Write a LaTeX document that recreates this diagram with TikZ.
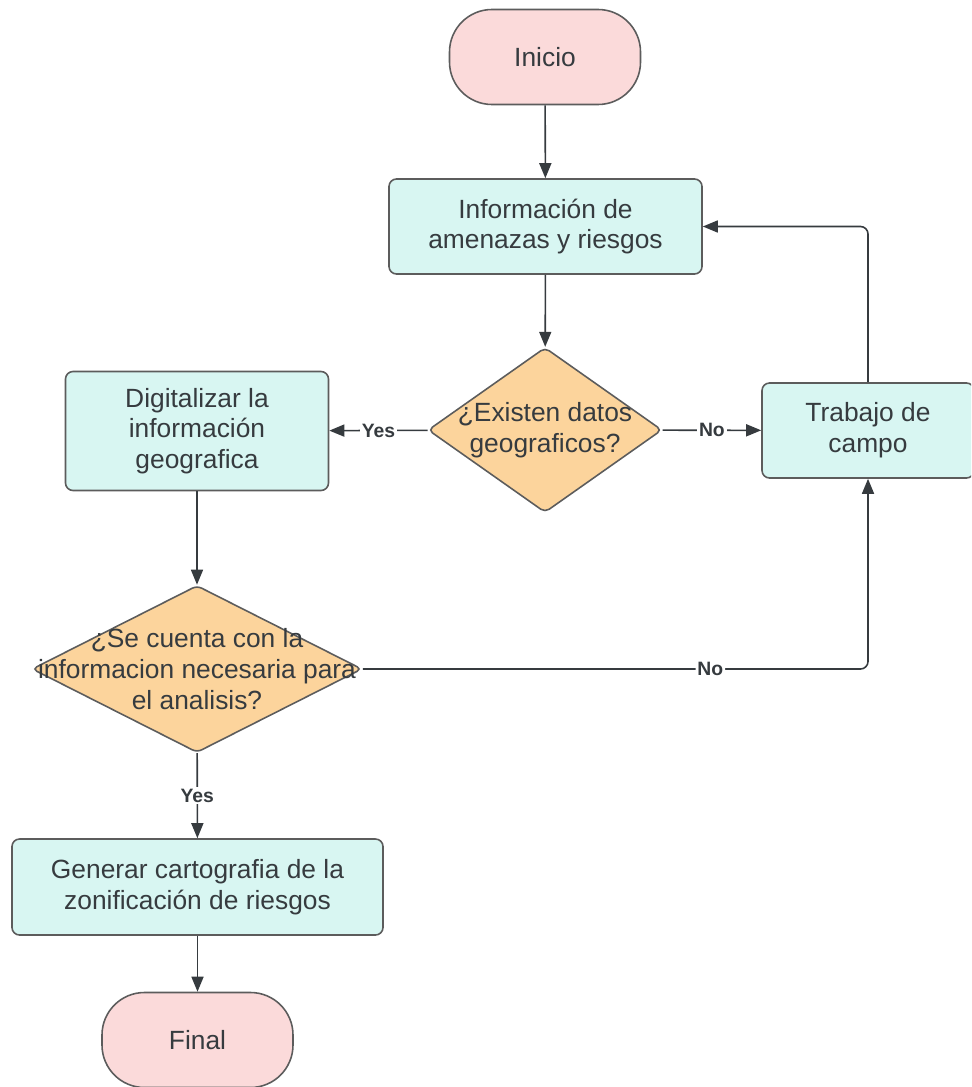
\documentclass[tikz,border=0pt]{standalone}
\usepackage{fontspec}
\setmainfont{Liberation Sans}
\usetikzlibrary{shapes.geometric,arrows.meta}
\definecolor{pinkfill}{HTML}{FBDADA}
\definecolor{cyanfill}{HTML}{D8F6F2}
\definecolor{orangefill}{HTML}{FCD49C}
\definecolor{edgegray}{HTML}{5C5C5C}
\definecolor{txtgray}{HTML}{363B3F}
\begin{document}
\begin{tikzpicture}[
  every node/.style={text=txtgray, font=\fontsize{15}{17.5}\selectfont, align=center},
  terminal/.style={draw=edgegray, fill=pinkfill, line width=0.9pt, rounded corners=0.85cm, minimum width=3.82cm, minimum height=1.9cm},
  process/.style={draw=edgegray, fill=cyanfill, line width=0.9pt, rounded corners=0.15cm, minimum height=1.9cm},
  decision/.style={draw=edgegray, fill=orangefill, line width=0.9pt, diamond, inner sep=0pt, rounded corners=0.1cm},
  flow/.style={draw=txtgray, line width=0.9pt, -{Triangle[length=0.3cm,width=0.24cm]}},
  choice/.style={fill=white, inner sep=1pt, font=\fontsize{11}{13}\selectfont\bfseries}
]
\clip (0,0) rectangle (19.42,-21.74);

\node [terminal] (inicio) at (10.9,-1.14) {Inicio};
\node [process, minimum width=6.26cm] (info) at (10.91,-4.53) {Información de\\amenazas y riesgos};
\node [decision, minimum width=4.68cm, minimum height=3.3cm,
  label={[align=center]center:¿Existen datos\\geograficos?}] (existen) at (10.9,-8.6) {};
\node [process, minimum width=5.26cm, minimum height=2.38cm] (digital) at (3.94,-8.62) {Digitalizar la\\información\\geografica};
\node [process, minimum width=4.24cm] (campo) at (17.36,-8.61) {Trabajo de\\campo};
\node [decision, minimum width=6.6cm, minimum height=3.34cm,
  label={[align=center]center:¿Se cuenta con la\\informacion necesaria para\\el analisis?}] (cuenta) at (3.94,-13.38) {};
\node [process, minimum width=7.42cm, minimum height=1.92cm] (carto) at (3.95,-17.74) {Generar cartografia de la\\zonificación de riesgos};
\node [terminal] (final) at (3.95,-20.8) {Final};

\draw [flow] (inicio) -- (info);
\draw [flow] (info) -- (existen);
\draw [flow] (existen) -- node[choice]{Yes} (digital);
\draw [flow] (existen) -- node[choice]{No} (campo);
\draw [flow, rounded corners=0.15cm] (campo.north) |- (info.east);
\draw [flow] (digital) -- (cuenta);
\draw [flow, rounded corners=0.15cm] (cuenta.east) -| node[choice, pos=.344]{No} (campo.south);
\draw [flow] (cuenta) -- node[choice]{Yes} (carto);
\draw [flow] (carto) -- (final);
\end{tikzpicture}
\end{document}
